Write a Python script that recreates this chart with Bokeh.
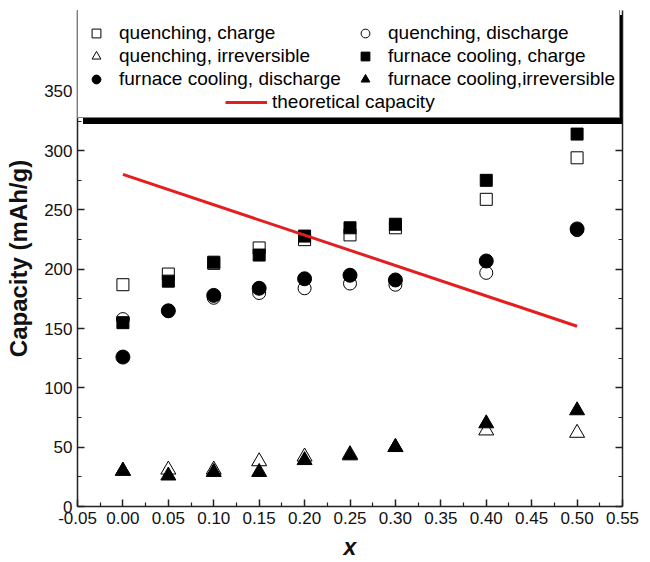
from bokeh.plotting import figure
from bokeh.models import (Range1d, FixedTicker, PrintfTickFormatter, LinearAxis,
                          CustomJSTickFormatter, Legend, LegendItem)
from bokeh.embed import file_html
from bokeh.resources import INLINE

# ---------------- data ----------------
x_vals = [0.00, 0.05, 0.10, 0.15, 0.20, 0.25, 0.30, 0.40, 0.50]
q_charge = [187, 196, 205, 218, 225, 229, 235, 259, 294]
q_discharge = [158, 165, 176, 180, 184, 188, 187, 197, 233]
q_irrev = [30, 31, 31, 38, 42, 44, 50, 64, 62]
f_charge = [155, 190, 206, 212, 228, 235, 238, 275, 314]
f_discharge = [126, 165, 178, 184, 192, 195, 191, 207, 234]
f_irrev = [30, 26, 29, 29, 39, 43, 50, 70, 81]
theo_x = [0.00, 0.50]
theo_y = [280, 152]

x_ticks = [-0.05, 0.00, 0.05, 0.10, 0.15, 0.20, 0.25, 0.30, 0.35, 0.40, 0.45, 0.50, 0.55]
x_minor = [-0.025, 0.025, 0.075, 0.125, 0.175, 0.225, 0.275, 0.325, 0.375, 0.425, 0.475, 0.525]
y_ticks = [0, 50, 100, 150, 200, 250, 300, 350]
y_minor = [25, 75, 125, 175, 225, 275, 325, 375]

labels = ["quenching, charge", "quenching, discharge", "quenching, irreversible",
          "furnace cooling, charge", "furnace cooling, discharge",
          "furnace cooling,irreversible", "theoretical capacity"]

FONT = "Liberation Sans"
AX = "#222222"

p = figure(width=650, height=562, output_backend="svg", toolbar_location=None,
           x_range=Range1d(-0.05, 0.55), y_range=Range1d(0, 418.2),
           min_border_left=77, min_border_right=28, min_border_top=10,
           min_border_bottom=56)
p.outline_line_color = None
p.xgrid.visible = False
p.ygrid.visible = False
p.background_fill_color = "white"

# ---------------- glyphs ----------------
r1 = p.scatter(x_vals, q_charge, marker="square", size=12, fill_color="white",
               line_color="black", line_width=1)
r2 = p.scatter(x_vals, q_discharge, marker="circle", size=13, fill_color="white",
               line_color="black", line_width=1)
r3 = p.scatter(x_vals, q_irrev, marker="triangle", size=15, fill_color="white",
               line_color="black", line_width=1)
r4 = p.scatter(x_vals, f_charge, marker="square", size=12, fill_color="black",
               line_color="black")
r5 = p.scatter(x_vals, f_discharge, marker="circle", size=14, fill_color="black",
               line_color="black")
r6 = p.scatter(x_vals, f_irrev, marker="triangle", size=15, fill_color="black",
               line_color="black")
r7 = p.line(theo_x, theo_y, line_color="#e41e1e", line_width=3)
dummy = p.line(theo_x, theo_y, line_alpha=0)

# ---------------- axes ----------------
def style_axis(ax):
    ax.axis_line_color = AX
    ax.axis_line_width = 1.5
    ax.major_tick_line_color = AX
    ax.major_tick_line_width = 1.5
    ax.minor_tick_line_color = AX
    ax.minor_tick_line_width = 1.2
    ax.major_tick_in = 7
    ax.major_tick_out = 0
    ax.minor_tick_in = 4
    ax.minor_tick_out = 0
    ax.major_label_text_font = FONT
    ax.major_label_text_font_size = "17px"
    ax.major_label_text_color = "#111111"

xa = p.xaxis[0]
xa.ticker = FixedTicker(ticks=x_ticks, minor_ticks=x_minor)
xa.formatter = PrintfTickFormatter(format="%.2f")
style_axis(xa)
xa.major_label_standoff = 5
xa.axis_label = "x"
xa.axis_label_text_font = FONT
xa.axis_label_text_font_size = "23px"
xa.axis_label_text_font_style = "bold italic"
xa.axis_label_text_color = "#111111"
xa.axis_label_standoff = 7

ya = p.yaxis[0]
ya.ticker = FixedTicker(ticks=y_ticks, minor_ticks=y_minor)
style_axis(ya)
ya.major_label_standoff = 5
ya.axis_label = "Capacity (mAh/g)"
ya.axis_label_text_font = FONT
ya.axis_label_text_font_size = "24px"
ya.axis_label_text_font_style = "bold"
ya.axis_label_text_color = "#111111"
ya.axis_label_standoff = 9

ra = LinearAxis(ticker=FixedTicker(ticks=y_ticks, minor_ticks=y_minor),
                formatter=CustomJSTickFormatter(code="return ''"))
style_axis(ra)
p.add_layout(ra, "right")

# ---------------- legend ----------------
rens = [r1, r2, r3, r4, r5, r6]

def blank_items():
    # empty cells that only give the legend box (and its shadow) their size
    return [LegendItem(label=" ", renderers=[dummy]) for _ in range(7)]

box_style = dict(orientation="horizontal", ncols=2, label_text_font=FONT,
                 label_text_font_size="19px", glyph_width=24, glyph_height=22,
                 label_standoff=9, label_width=229, label_height=20,
                 padding=8, spacing=1, margin=0)

shadow = Legend(items=blank_items(), location=(6, 382),
                background_fill_color="black", background_fill_alpha=1,
                border_line_color="black", **box_style)
box = Legend(items=blank_items(), location=(0, 388),
             background_fill_color="white", background_fill_alpha=1,
             border_line_color="black", border_line_width=1, **box_style)

entries = Legend(items=[LegendItem(label=lab, renderers=[r])
                        for lab, r in zip(labels[:6], rens)],
                 location=(7, 416), orientation="horizontal", ncols=2,
                 background_fill_alpha=0, border_line_color=None,
                 label_text_font=FONT, label_text_font_size="19px",
                 label_text_color="black", glyph_width=24, glyph_height=22,
                 label_standoff=11, label_width=233, label_height=20,
                 padding=0, spacing=1, margin=0)
theo = Legend(items=[LegendItem(label=labels[6], renderers=[r7])], location=(148, 393),
              background_fill_alpha=0, border_line_color=None,
              label_text_font=FONT, label_text_font_size="19px", label_text_color="black",
              glyph_width=42, glyph_height=22, label_standoff=5, padding=0, margin=0)
p.add_layout(shadow, "center")
p.add_layout(box, "center")
p.add_layout(entries, "center")
p.add_layout(theo, "center")

open("out.html", "w").write(file_html(p, INLINE))
